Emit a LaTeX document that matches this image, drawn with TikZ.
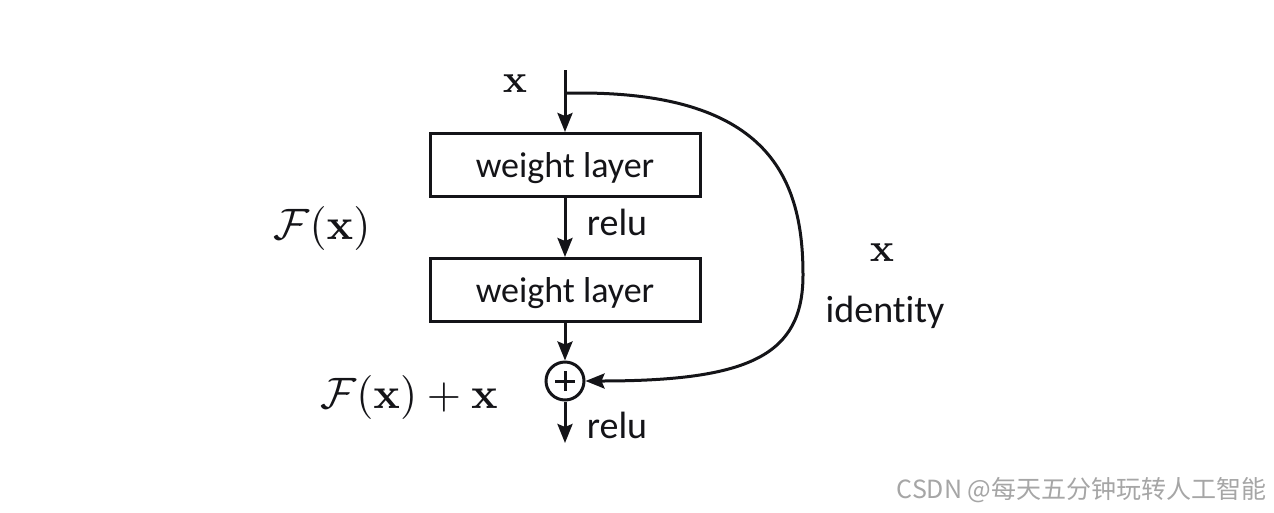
\documentclass[tikz,border=0pt]{standalone}
\usepackage[no-math]{fontspec}
\usepackage{amsmath}
\newfontfamily\calfont[RawFeature=-liga]{Carlito}
\newfontfamily\cjkfont{Noto Sans CJK SC}
\usetikzlibrary{arrows.meta}
\definecolor{ink}{HTML}{141418}
\begin{document}
\begin{tikzpicture}[x=1pt,y=-1pt,
  line width=3pt,
  arr/.style={draw=ink,-{Stealth[length=19pt,width=15pt,inset=3pt]}},
  wl/.style={draw=ink,rectangle,minimum width=270pt,minimum height=63pt,inner sep=0pt,text depth=0pt,font=\calfont\fontsize{36}{40}\selectfont,text=ink},
  lbl/.style={font=\calfont\fontsize{38}{42}\selectfont,text=ink,inner sep=0pt},
  mth/.style={text=ink,inner sep=0pt}]
\useasboundingbox[fill=white] (0,0) rectangle (1274,512);
\node[wl] (w1) at (565,165) {weight layer};
\node[wl] (w2) at (565,290) {weight layer};
\node[circle,draw=ink,minimum size=38pt,inner sep=0pt] (plus) at (565,381) {};
\draw[ink] ([xshift=-10pt]plus.center) -- ([xshift=10pt]plus.center);
\draw[ink] ([yshift=-10pt]plus.center) -- ([yshift=10pt]plus.center);
\coordinate (top) at (565,70);
\coordinate (split) at (565,93);
\coordinate (out) at (565,443);
\draw[arr] (top) -- (w1.north);
\draw[arr] (w1.south) -- (w2.north);
\draw[arr] (w2.south) -- (plus.north);
\draw[arr] (plus.south) -- (out);
\draw[arr] (split) -- (580,93) .. controls (770,93) and (803,180) .. (803,275) .. controls (803,355) and (750,381) .. (plus.east);
\node[mth] (xtop) at (515,84) {\scalebox{4.0}{$\mathbf{x}$}};
\node[mth] (xright) at (882,253) {\scalebox{4.0}{$\mathbf{x}$}};
\node[lbl] (relu1) at (617,222) {relu};
\node[lbl] (relu2) at (617,425) {relu};
\node[lbl] (ident) at (885,312) {identity};
\node[mth] (fx) at (322,228) {\scalebox{4.4}{$\mathcal{F}(\mathbf{x})$}};
\node[mth] (fxx) at (409,397) {\scalebox{4.4}{$\mathcal{F}(\mathbf{x})+\mathbf{x}$}};
\node[font=\cjkfont\fontsize{25}{28}\selectfont,text=black!35,inner sep=0pt,anchor=east] (wm) at (1268,490) {CSDN @每天五分钟玩转人工智能};
\end{tikzpicture}
\end{document}
